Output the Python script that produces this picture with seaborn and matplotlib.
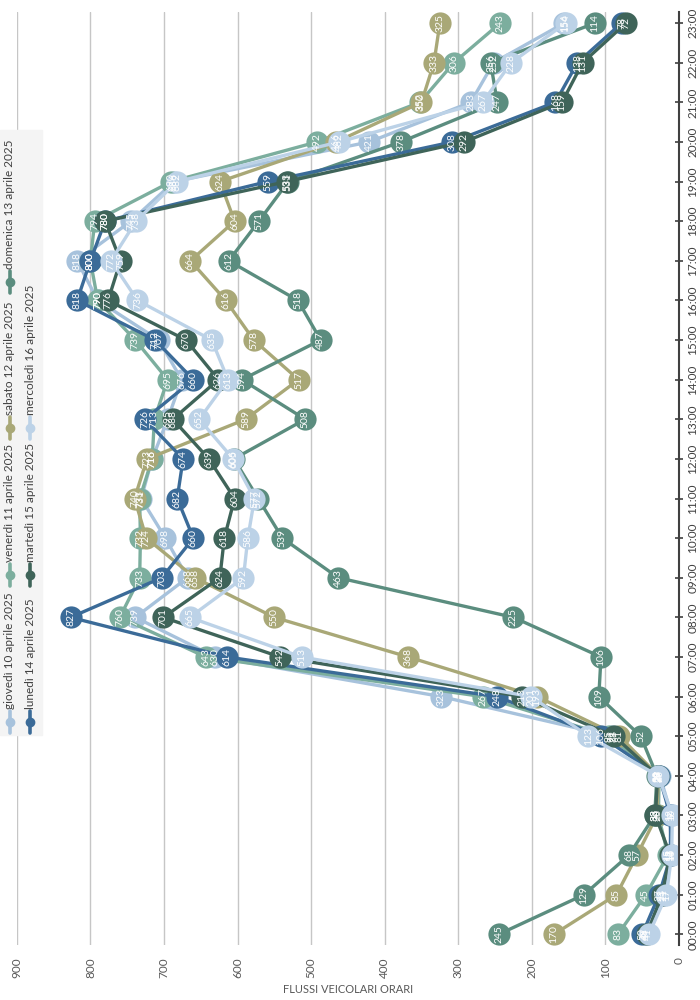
import matplotlib
matplotlib.use("Agg")
import matplotlib.pyplot as plt
from matplotlib.lines import Line2D
from matplotlib.patches import Rectangle
import seaborn as sns
import pandas as pd

hours = list(range(24))
hour_labels = [f"{h:02d}:00" for h in hours]

days = ["giovedì 10 aprile 2025", "venerdì 11 aprile 2025", "sabato 12 aprile 2025",
        "domenica 13 aprile 2025", "lunedì 14 aprile 2025", "martedì 15 aprile 2025",
        "mercoledì 16 aprile 2025"]

giovedi = [45, 21, 13, 10, 26, 91, 323, 630, 739, 668, 698, 731, 716, 695, 676, 707,
           790, 818, 745, 686, 421, 283, 252, 156]
venerdi = [83, 45, 15, 28, 27, 95, 267, 643, 760, 733, 732, 733, 716, 713, 695, 739,
           790, 800, 794, 690, 492, 352, 306, 243]
sabato = [170, 85, 57, 30, 28, 81, 193, 368, 550, 658, 724, 740, 723, 589, 517, 578,
          616, 664, 604, 624, 466, 350, 333, 325]
domenica = [245, 129, 68, 33, 30, 52, 109, 106, 225, 463, 539, 572, 605, 508, 594, 487,
            518, 612, 571, 531, 378, 247, 256, 114]
lunedi = [50, 27, 11, 12, 27, 106, 248, 614, 827, 703, 660, 682, 674, 726, 660, 712,
          818, 800, 780, 559, 308, 168, 138, 78]
martedi = [44, 23, 12, 32, 29, 88, 213, 542, 701, 624, 618, 604, 639, 688, 626, 670,
           776, 759, 780, 533, 292, 159, 131, 72]
mercoledi = [41, 17, 10, 9, 28, 123, 201, 513, 665, 592, 586, 577, 606, 652, 613, 635,
             736, 772, 738, 682, 462, 267, 228, 154]

series = [giovedi, venerdi, sabato, domenica, lunedi, martedi, mercoledi]
colors = ["#a7c2dc", "#7cae9e", "#a9a877", "#5b8d7f", "#3b6b98", "#3f6459", "#bcd2e7"]
palette = dict(zip(days, colors))

df = pd.DataFrame({
    "ora": hours * len(days),
    "flusso": [v for s in series for v in s],
    "giorno": [d for d in days for _ in hours],
})

sns.set_style("white")
plt.rcParams["font.family"] = ["Lato", "DejaVu Sans"]

fig = plt.figure(figsize=(7, 10), dpi=100)
ax = fig.add_axes([0.024, 0.055, 0.946, 0.933])

sns.lineplot(data=df, x="flusso", y="ora", hue="giorno", hue_order=days,
             palette=palette, orient="y", estimator=None, sort=True,
             marker="o", markersize=16, markeredgewidth=0, linewidth=2.4,
             legend=False, ax=ax)

for day, vals in zip(days, series):
    for h, v in zip(hours, vals):
        ax.text(v, h, str(v), rotation=90, color="white", fontsize=7.5,
                ha="center", va="center", zorder=5)

ax.set_xlim(900, 0)
ax.set_ylim(-0.27, 23.28)
ax.set_xticks(range(0, 1000, 100))
ax.set_xticklabels([str(v) for v in range(0, 1000, 100)], rotation=90,
                   fontsize=8.5, color="#595959")
ax.tick_params(axis="x", length=0, pad=9)
ax.yaxis.tick_right()
ax.set_yticks(hours)
ax.set_yticklabels(hour_labels, rotation=90, va="center", fontsize=8.5, color="#404040")
ax.tick_params(axis="y", direction="inout", length=6, width=1.2, color="#404040", pad=3)
ax.grid(axis="x", color="#c6c6c6", linewidth=1)
ax.set_axisbelow(True)
for side in ["top", "bottom", "left"]:
    ax.spines[side].set_visible(False)
ax.spines["right"].set_color("#404040")
ax.spines["right"].set_linewidth(1.5)
ax.set_ylabel("")
ax.set_xlabel("FLUSSI VEICOLARI ORARI", fontsize=8, color="#595959", labelpad=4)

# legend, vertical like the rest of the chart
fig.patches.append(Rectangle((0, 1 - 735 / 1000), 42 / 700, 605 / 1000,
                             transform=fig.transFigure, color="#f4f4f4", zorder=0))
legend_pos = [(10, 722), (10, 575), (10, 428), (10, 282), (30, 722), (30, 575), (30, 428)]
for (px, py), day, col in zip(legend_pos, days, colors):
    x = px / 700
    y = 1 - py / 1000
    fig.add_artist(Line2D([x, x], [y - 0.011, y + 0.011], color=col, lw=2.6,
                          transform=fig.transFigure))
    fig.add_artist(Line2D([x], [y], color=col, marker="o", markersize=6,
                          transform=fig.transFigure))
    fig.text(x, y + 0.013, day, rotation=90, ha="center", va="bottom",
             fontsize=8.5, color="#404040")

fig.savefig("out.png", dpi=100)
